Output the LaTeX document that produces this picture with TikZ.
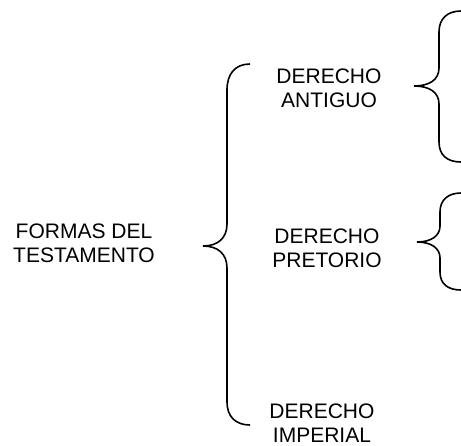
\documentclass[tikz,border=0pt]{standalone}
\usepackage{fontspec}
\setmainfont{Liberation Sans}
\begin{document}
\begin{tikzpicture}[x=1pt,y=-1pt,
  lbl/.style={align=center,inner sep=0pt,anchor=base,font=\fontsize{21}{23.5}\selectfont},
  brace/.style={line width=1.6pt,black}]
\useasboundingbox (0,0) rectangle (461,445);
\node[lbl] (formas) at (84,262) {FORMAS DEL\\TESTAMENTO};
\node[lbl] (antiguo) at (329,107) {DERECHO\\ANTIGUO};
\node[lbl] (pretorio) at (327,267.3) {DERECHO\\PRETORIO};
\node[lbl] (imperial) at (322,442) {DERECHO\\IMPERIAL};
% main brace
\coordinate (btip) at (203,246);
\draw[brace] (250,64) .. controls (235,64) and (227,74) .. (227,90) -- (227,224)
  .. controls (227,238) and (218,246) .. (btip)
  .. controls (218,246) and (227,254) .. (227,268) -- (227,402)
  .. controls (227,416) and (235,425) .. (250,425);
% upper right brace
\coordinate (r1tip) at (414,86);
\draw[brace] (461,11) .. controls (447,11) and (439,19) .. (439,32) -- (439,68)
  .. controls (439,80) and (429,86) .. (r1tip)
  .. controls (429,86) and (439,92) .. (439,104) -- (439,142)
  .. controls (439,155) and (447,162) .. (461,162);
% lower right brace
\coordinate (r2tip) at (417,242);
\draw[brace] (461,193) .. controls (448,193) and (440,200) .. (440,212) -- (440,226)
  .. controls (440,236) and (431,242) .. (r2tip)
  .. controls (431,242) and (440,248) .. (440,258) -- (440,272)
  .. controls (440,284) and (448,290) .. (461,290);
\end{tikzpicture}
\end{document}
